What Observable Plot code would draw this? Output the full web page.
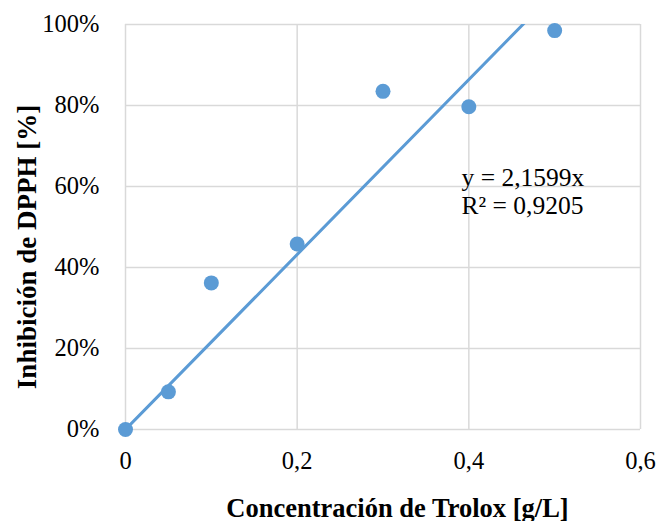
<!DOCTYPE html>
<html>
<head>
<meta charset="utf-8">
<script src="https://cdn.jsdelivr.net/npm/d3@7"></script>
<script src="https://cdn.jsdelivr.net/npm/@observablehq/plot@0.6"></script>
<style>
  html, body { margin: 0; padding: 0; background: #fff; }
  #chart svg { display: block; }
  #chart svg text { font-family: "Liberation Serif", "Times New Roman", serif; }
</style>
</head>
<body>
<div id="chart"></div>
<script>
// Trolox concentration (g/L) and DPPH inhibition (fraction)
const concentration = [0, 0.05, 0.1, 0.2, 0.3, 0.4, 0.5];
const inhibition = [0.0, 0.093, 0.362, 0.458, 0.835, 0.797, 0.985];

// Linear fit through the origin
const slope = 2.1599;
const rSquared = 0.9205;

const xTicks = [0, 0.2, 0.4, 0.6];
const yTicks = [0, 0.2, 0.4, 0.6, 0.8, 1.0];

const points = concentration.map((c, i) => ({x: c, y: inhibition[i]}));
const fitLine = [0, 0.6].map(x => ({x, y: slope * x}));

const comma = v => String(v).replace(".", ",");
const eqText = `y = ${comma(slope)}x\nR² = ${comma(rSquared)}`;

const blue = "#5b9bd5";
const grid = "#d9d9d9";
const serif = "Liberation Serif";

const chart = Plot.plot({
  width: 660,
  height: 521,
  marginLeft: 125,
  marginRight: 20,
  marginTop: 24,
  marginBottom: 92,
  style: {fontSize: "24px", color: "#000", background: "#fff"},
  x: {domain: [0, 0.6]},
  y: {domain: [0, 1]},
  marks: [
    Plot.gridX(xTicks, {stroke: grid, strokeOpacity: 1, strokeWidth: 1.5}),
    Plot.gridY(yTicks, {stroke: grid, strokeOpacity: 1, strokeWidth: 1.5}),
    Plot.axisX(xTicks, {tickFormat: d => comma(d), tickSize: 0, tickPadding: 22, fontSize: 24.5,
      fontFamily: serif, label: null}),
    Plot.axisY(yTicks, {tickFormat: d => Math.round(d * 100) + "%", tickSize: 0, tickPadding: 26,
      fontSize: 24.5, fontFamily: serif, label: null}),
    Plot.line(fitLine, {x: "x", y: "y", stroke: blue, strokeWidth: 3, clip: "frame"}),
    Plot.dot(points, {x: "x", y: "y", r: 7.5, fill: blue}),
    Plot.text([eqText], {x: 0.3915, y: 0.531, text: d => d, textAnchor: "start", lineAnchor: "bottom",
      lineHeight: 1.1, fontSize: 25.5, fontFamily: serif, fill: "#000"}),
    Plot.text(["Concentración de Trolox [g/L]"], {frameAnchor: "bottom", lineAnchor: "bottom",
      dx: 14.5, dy: 87, text: d => d, fontSize: 26.5, fontWeight: "bold", fontFamily: serif, fill: "#000"}),
    Plot.text(["Inhibición de DPPH [%]"], {frameAnchor: "left", textAnchor: "middle", lineAnchor: "middle",
      dx: -98.6, dy: 20, rotate: -90, text: d => d,
      fontSize: 27, fontWeight: "bold", fontFamily: serif, fill: "#000"})
  ]
});

document.getElementById("chart").appendChild(chart);
</script>
</body>
</html>
